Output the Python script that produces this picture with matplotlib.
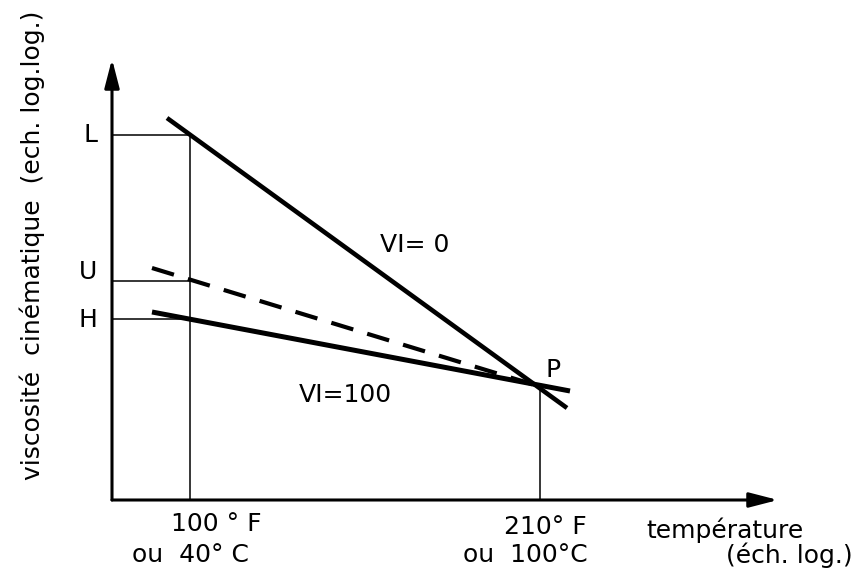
import matplotlib.pyplot as plt

# schematic coordinates, origin at the corner of the two axes
x_axis_end = 666
y_axis_end = 441

# reference temperatures on the x axis
x_100F = 78
x_210F = 428

# viscosity levels at 100 F
L_level = 365
U_level = 219
H_level = 181
P_level = 114

# lines (start x, end x) and (start y, end y)
vi0_x = [55, 455]
vi0_y = [382, 92]
vi100_x = [40, 458]
vi100_y = [188, 109]
dash_x = [40, 423]
dash_y = [232, 115]

fig = plt.figure(figsize=(8.68, 5.74), dpi=100)
ax = fig.add_axes([112 / 868, 74 / 574, x_axis_end / 868, y_axis_end / 574])
ax.set_xlim(0, x_axis_end)
ax.set_ylim(0, y_axis_end)
ax.axis('off')

font = 'DejaVu Sans'
fs = 18

# axes with arrows
arrow = dict(arrowstyle='-|>,head_length=0.62,head_width=0.16', lw=2.2, color='black',
             mutation_scale=28, shrinkA=0, shrinkB=0)
ax.annotate('', xy=(x_axis_end, 0), xytext=(0, 0), arrowprops=arrow, annotation_clip=False)
ax.annotate('', xy=(0, y_axis_end), xytext=(0, 0), arrowprops=arrow, annotation_clip=False)

# thin guide lines
ax.plot([x_100F, x_100F], [0, L_level], color='black', lw=1.1)
ax.plot([x_210F, x_210F], [0, P_level], color='black', lw=1.1)
for lev in [L_level, U_level, H_level]:
    ax.plot([0, x_100F], [lev, lev], color='black', lw=1.1)

# viscosity lines
ax.plot(vi0_x, vi0_y, color='black', lw=3.3, solid_capstyle='butt', clip_on=False)
ax.plot(vi100_x, vi100_y, color='black', lw=3.6, solid_capstyle='butt', clip_on=False)
ax.plot(dash_x, dash_y, color='black', lw=3.0, dashes=(5.5, 3.5), clip_on=False)

# labels
kw = dict(family=font, fontsize=fs, ha='center', va='center', clip_on=False)
ax.text(-22, 365, 'L', **kw)
ax.text(-24, 228, 'U', **kw)
ax.text(-24, 180, 'H', **kw)
ax.text(303, 255, 'VI= 0', **kw)
ax.text(233, 105, 'VI=100', **kw)
ax.text(441, 130, 'P', **kw)
ax.text(104, -24, '100 ° F', **kw)
ax.text(78, -55, 'ou  40° C', **kw)
ax.text(433, -27, '210° F', **kw)
ax.text(413, -55, 'ou  100°C', **kw)
ax.text(613, -30, 'température', **kw)
ax.text(677, -55, '(éch. log.)', **kw)
ax.text(-80, 255, 'viscosité  cinématique  (ech. log.log.)', rotation=90, **kw)

fig.savefig('out.png', dpi=100)
